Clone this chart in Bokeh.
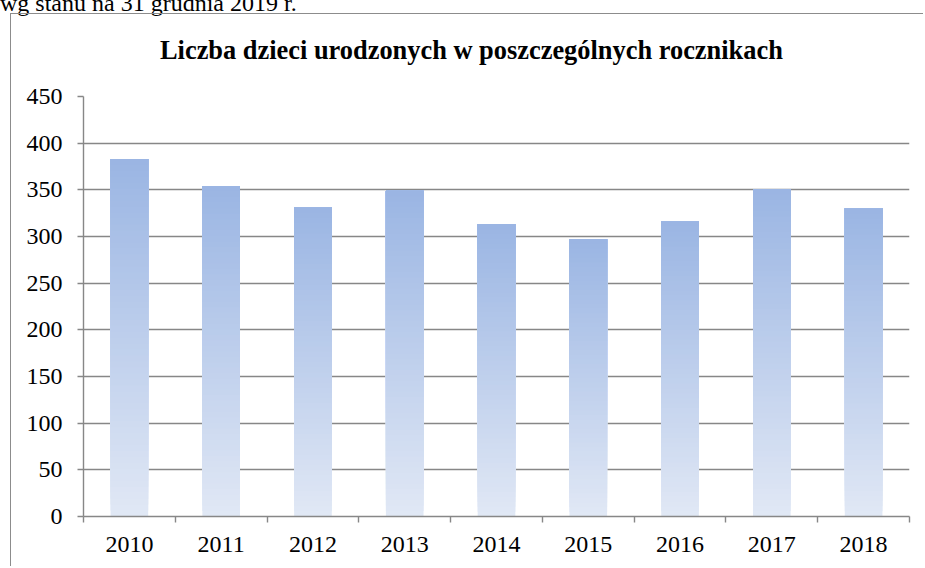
from bokeh.plotting import figure
from bokeh.models import Range1d, FixedTicker, Div, ColumnDataSource, CustomJSTickFormatter
from bokeh.layouts import column
from bokeh.embed import file_html
from bokeh.resources import INLINE

# ---- data ----
title_text = "Liczba dzieci urodzonych w poszczególnych rocznikach"
note_text = "wg stanu na 31 grudnia 2019 r."
years = ["2010", "2011", "2012", "2013", "2014", "2015", "2016", "2017", "2018"]
births = [383, 354, 331, 349, 313, 297, 316, 351, 330]
y_ticks = [0, 50, 100, 150, 200, 250, 300, 350, 400, 450]

# ---- style ----
FONT = "Liberation Serif"
GRAY = "#878787"
top_rgb = (154, 181, 227)
bot_rgb = (225, 232, 245)
n_steps = 60
bar_width = 0.41

centers = list(range(len(years)))
bounds = [c - 0.5 for c in range(len(years) + 1)]

# gradient slices: each slice spans from its bottom to the bar top, drawn bottom-first
xs, bottoms, tops, colors = [], [], [], []
for j in range(n_steps):
    f = (j + 0.5) / n_steps
    r = round(bot_rgb[0] + (top_rgb[0] - bot_rgb[0]) * f)
    g = round(bot_rgb[1] + (top_rgb[1] - bot_rgb[1]) * f)
    b = round(bot_rgb[2] + (top_rgb[2] - bot_rgb[2]) * f)
    col = "#%02x%02x%02x" % (r, g, b)
    for c, v in zip(centers, births):
        xs.append(c)
        bottoms.append(v * j / n_steps)
        tops.append(v)
        colors.append(col)
src = ColumnDataSource(dict(x=xs, bottom=bottoms, top=tops, color=colors))

p = figure(width=913, height=553, output_backend="svg", toolbar_location=None,
           x_range=Range1d(-0.5, len(years) - 0.5), y_range=Range1d(0, 450),
           min_border_left=72, min_border_right=15, min_border_top=82, min_border_bottom=51,
           tools="")
p.border_fill_color = None
p.background_fill_color = "white"
p.outline_line_color = None
p.margin = (-57, 0, 0, 10)
p.styles = {"border-left": "1.5px solid #8c8c8c", "border-top": "1.5px solid #8c8c8c"}

p.vbar(x="x", bottom="bottom", top="top", width=bar_width, fill_color="color",
       line_color=None, source=src)

# grid
p.xgrid.visible = False
p.ygrid.ticker = FixedTicker(ticks=y_ticks)
p.ygrid.grid_line_color = GRAY
p.ygrid.grid_line_width = 1.4

# y axis
ya = p.yaxis[0]
ya.ticker = FixedTicker(ticks=y_ticks)
ya.axis_line_color = GRAY
ya.axis_line_width = 1.4
ya.major_tick_line_color = GRAY
ya.major_tick_line_width = 1.4
ya.major_tick_in = 0
ya.major_tick_out = 6
ya.minor_tick_line_color = None
ya.major_label_text_font = FONT
ya.major_label_text_font_size = "24px"
ya.major_label_text_color = "black"
ya.major_label_standoff = 15

# x axis: labels at category centres, ticks at boundaries
xa = p.xaxis[0]
xa.ticker = FixedTicker(ticks=centers, minor_ticks=bounds)
xa.formatter = CustomJSTickFormatter(args=dict(labels=years),
                                     code="return labels[Math.round(tick)] || '';")
xa.axis_line_color = GRAY
xa.axis_line_width = 1.4
xa.major_tick_line_color = None
xa.major_tick_in = 0
xa.major_tick_out = 0
xa.minor_tick_line_color = GRAY
xa.minor_tick_line_width = 1.4
xa.minor_tick_in = 0
xa.minor_tick_out = 6
xa.major_label_text_font = FONT
xa.major_label_text_font_size = "24px"
xa.major_label_text_color = "black"
xa.major_label_standoff = 14

note = Div(text=note_text, width=400, height=14, margin=(-14, 0, 0, 0),
           styles={"font-family": FONT, "font-size": "24px", "line-height": "34px",
                   "white-space": "nowrap", "color": "black"})

title = Div(text=title_text, width=700, height=40, margin=(30, 0, 0, 160),
            styles={"font-family": FONT, "font-size": "26.4px", "font-weight": "bold",
                    "line-height": "40px", "white-space": "nowrap", "color": "black"})

layout = column(note, title, p, spacing=0)
open("out.html", "w").write(file_html(layout, INLINE))
